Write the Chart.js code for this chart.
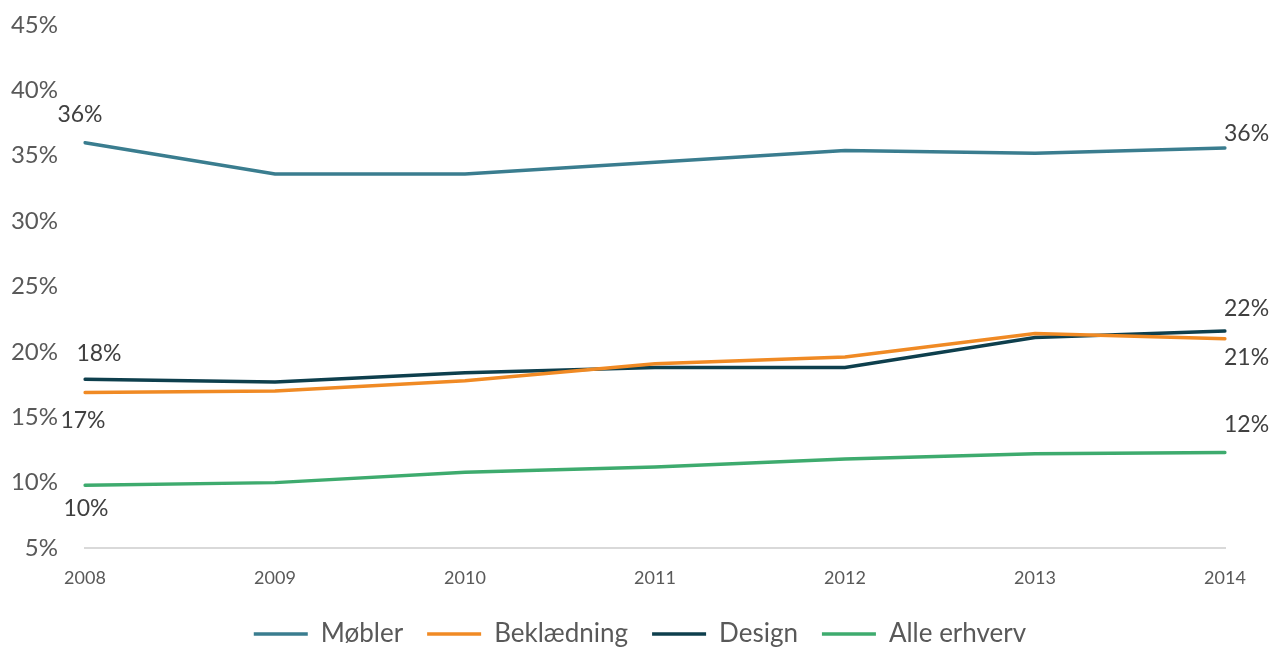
<!DOCTYPE html>
<html>
<head>
<meta charset="utf-8">
<script src="https://cdn.jsdelivr.net/npm/chart.js@4"></script>
<style>
  html, body { margin: 0; padding: 0; background: #fff; }
  #wrap { width: 1280px; height: 648px; position: relative; }
</style>
</head>
<body>
<div id="wrap"><canvas id="c"></canvas></div>
<script>
'use strict';

// Andel (%) per år
const years = ['2008', '2009', '2010', '2011', '2012', '2013', '2014'];
const moebler = [36.0, 33.6, 33.6, 34.5, 35.4, 35.2, 35.6];
const beklaedning = [16.9, 17.0, 17.8, 19.1, 19.6, 21.4, 21.0];
const design = [17.9, 17.7, 18.4, 18.8, 18.8, 21.1, 21.6];
const alleErhverv = [9.8, 10.0, 10.8, 11.2, 11.8, 12.2, 12.3];
const yTicks = [5, 10, 15, 20, 25, 30, 35, 40, 45];

const ink = '#595959';
const font = 'Lato, "Open Sans", sans-serif';

function line(label, data, color, labelOffsets) {
  return {
    label: label,
    data: data,
    borderColor: color,
    backgroundColor: color,
    borderWidth: 3.5,
    borderCapStyle: 'round',
    pointRadius: 0,
    tension: 0,
    fill: false,
    labelOffsets: labelOffsets, // [first point, last point] text nudges
  };
}

// Value labels at first and last point only.
const endLabels = {
  id: 'endLabels',
  afterDatasetsDraw(chart) {
    const ctx = chart.ctx;
    ctx.save();
    ctx.font = '23px ' + font;
    ctx.fillStyle = '#404040';
    ctx.textBaseline = 'middle';
    chart.data.datasets.forEach(function (ds, i) {
      const pts = chart.getDatasetMeta(i).data;
      const idx = [0, pts.length - 1];
      idx.forEach(function (k, j) {
        const off = ds.labelOffsets[j];
        ctx.textAlign = j === 0 ? 'center' : 'left';
        ctx.fillText(Math.round(ds.data[k]) + '%', pts[k].x + off[0], pts[k].y + off[1]);
      });
    });
    ctx.restore();
  },
};

new Chart(document.getElementById('c'), {
  type: 'line',
  data: {
    labels: years,
    datasets: [
      line('Møbler', moebler, '#3A7D8F', [[-5, -28], [-1, -14]]),
      line('Beklædning', beklaedning, '#F08A24', [[-2, 28], [-1, 19]]),
      line('Design', design, '#0E3F4D', [[14, -26], [-1, -22]]),
      line('Alle erhverv', alleErhverv, '#3EAB6E', [[1, 23], [-1, -28]]),
    ],
  },
  options: {
    responsive: true,
    maintainAspectRatio: false,
    animation: false,
    // negative bottom lets the legend's own padding hang off the canvas
    layout: { padding: { left: 0, right: 0, top: 25, bottom: -9 } },
    plugins: {
      legend: {
        position: 'bottom',
        labels: {
          color: ink,
          font: { family: font, size: 26 },
          usePointStyle: true,
          pointStyle: 'line',
          pointStyleWidth: 54,
          boxWidth: 62,
          boxHeight: 26,
          padding: 24,
        },
      },
      tooltip: { enabled: false },
    },
    scales: {
      x: {
        grid: { display: false, drawTicks: false },
        border: { color: '#D9D9D9', width: 2 },
        ticks: { color: ink, font: { family: font, size: 18 }, padding: 19, maxRotation: 0 },
        afterFit: function (s) { s.height = 49; s.paddingRight = 55; },
      },
      y: {
        min: 5,
        max: 45,
        afterBuildTicks: function (s) { s.ticks = yTicks.map(function (v) { return { value: v }; }); },
        grid: { display: false, drawTicks: false },
        border: { display: false },
        ticks: {
          color: ink,
          font: { family: font, size: 24 },
          padding: 27,
          callback: function (v) { return v + '%'; },
        },
        // fixed gutter; tick padding should not push the plot down
        afterFit: function (s) { s.width = 85; s.paddingTop = 0; s.paddingBottom = 0; },
      },
    },
  },
  plugins: [endLabels],
});
</script>
</body>
</html>
